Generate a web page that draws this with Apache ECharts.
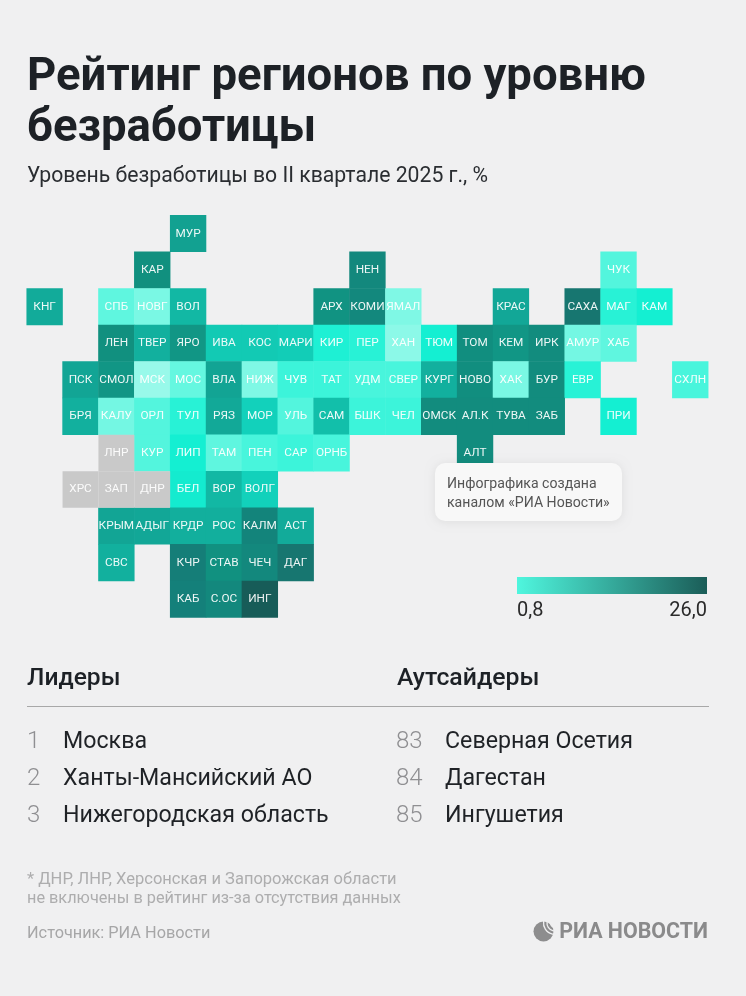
<!DOCTYPE html>
<html lang="ru">
  <head>
    <meta charset="UTF-8" />
    <title>Рейтинг регионов по уровню безработицы</title>
    <script src="https://cdn.jsdelivr.net/npm/echarts@6/dist/echarts.min.js"></script>
    <style>
      html, body { margin: 0; padding: 0; background: #f0f0f1; }
    </style>
  </head>
  <body>
    <div id="container" style="width: 746px;height: 996px"></div>
    <script>
      // tile map: one string per row, "·" is an empty tile
      var tileRows = [
        '· · · · МУР',
        '· · · КАР · · · · · НЕН · · · · · · ЧУК',
        'КНГ · СПБ НОВГ ВОЛ · · · АРХ КОМИ ЯМАЛ · · КРАС · САХА МАГ КАМ',
        '· · ЛЕН ТВЕР ЯРО ИВА КОС МАРИ КИР ПЕР ХАН ТЮМ ТОМ КЕМ ИРК АМУР ХАБ',
        '· ПСК СМОЛ МСК МОС ВЛА НИЖ ЧУВ ТАТ УДМ СВЕР КУРГ НОВО ХАК БУР ЕВР · · СХЛН',
        '· БРЯ КАЛУ ОРЛ ТУЛ РЯЗ МОР УЛЬ САМ БШК ЧЕЛ ОМСК АЛ.К ТУВА ЗАБ · ПРИ',
        '· · ЛНР КУР ЛИП ТАМ ПЕН САР ОРНБ · · · АЛТ',
        '· ХРС ЗАП ДНР БЕЛ ВОР ВОЛГ',
        '· · КРЫМ АДЫГ КРДР РОС КАЛМ АСТ',
        '· · СВС · КЧР СТАВ ЧЕЧ ДАГ',
        '· · · · КАБ С.ОС ИНГ'
      ]
      // unemployment, %, same order as the tiles of each row (null = no data)
      var rateRows = [
        [4.8],
        [6.0, 7.0, 1.4],
        [4.2, 1.3, 1.05, 3.5, 5.8, 7.0, 1.0, 4.4, 10.0, 1.8, 2.0],
        [6.0, 3.9, 5.6, 3.0, 3.0, 2.9, 1.9, 1.8, 0.9, 2.0, 6.2, 5.6, 6.5, 1.1, 1.3],
        [4.5, 5.6, 0.8, 1.25, 4.6, 1.0, 1.6, 1.6, 1.5, 1.5, 3.9, 6.2, 1.05, 6.5, 1.8, 1.5],
        [3.9, 1.1, 1.4, 1.8, 4.3, 2.8, 1.4, 3.3, 1.6, 1.6, 6.5, 6.5, 6.5, 6.5, 2.0],
        [null, 1.4, 2.0, 1.3, 1.5, 1.6, 1.5, 6.5],
        [null, null, null, 2.1, 3.5, 2.8],
        [4.5, 4.4, 4.0, 4.0, 7.5, 4.2],
        [3.9, 8.5, 5.9, 7.0, 10.0],
        [8.0, 7.0, 26.0]
      ]
      var rateStops = [0.8, 1.0, 1.3, 1.6, 2.0, 2.6, 3.5, 4.5, 6.0, 8.0, 10.0, 26.0]
      var stopColors = ['#98f9ea', '#7ff8e5', '#5ff6df', '#3cf4da', '#14efd2', '#12d8c1', '#12b8a4', '#12a595', '#11907f', '#14807a', '#177670', '#175c58']
      var legendColors = ['#4ff6de', '#1b5d58']
      var legendLabels = ['0,8', '26,0']

      var leadersTitle = 'Лидеры'
      var leaderRanks = ['1', '2', '3']
      var leaderNames = ['Москва', 'Ханты-Мансийский АО', 'Нижегородская область']
      var outsidersTitle = 'Аутсайдеры'
      var outsiderRanks = ['83', '84', '85']
      var outsiderNames = ['Северная Осетия', 'Дагестан', 'Ингушетия']

      var FONT = 'Roboto'
      var myChart = echarts.init(document.querySelector('#container'))

      var cols = []
      for (var c = 0; c < 19; c++) cols.push(c)
      var rows = tileRows.map(function (r, i) { return i })

      var heatData = []
      var noData = []
      tileRows.forEach(function (row, y) {
        var k = 0
        row.split(' ').forEach(function (code, x) {
          if (code === '·') return
          var rate = rateRows[y][k++]
          if (rate === null) noData.push({ name: code, value: [x, y] })
          else heatData.push({ name: code, value: [x, y, rate] })
        })
      })

      // the map colours are far from linear, so spread them over 0.1 steps
      var scaleColors = []
      for (var i = 0; i <= 252; i++) {
        var v = 0.8 + i * 0.1
        var s = 0
        while (s < rateStops.length - 2 && v > rateStops[s + 1]) s++
        var t = (v - rateStops[s]) / (rateStops[s + 1] - rateStops[s])
        scaleColors.push(echarts.color.lerp(Math.min(t, 1), [stopColors[s], stopColors[s + 1]]))
      }

      function txt(x, y, text, size, color, weight, align) {
        return {
          type: 'text', x: x, y: y, silent: true,
          style: {
            text: text, fill: color, align: align || 'left', verticalAlign: 'middle',
            font: (weight || 400) + ' ' + size + 'px ' + FONT
          }
        }
      }

      var graphic = [
        // info card
        {
          type: 'rect', x: 435, y: 463, silent: true, z: 5,
          shape: { width: 187, height: 58, r: 10 },
          style: { fill: '#f8f8f8', shadowBlur: 10, shadowColor: 'rgba(0,0,0,0.08)', shadowOffsetY: 1 }
        },
        Object.assign(txt(447, 484, 'Инфографика создана', 14.1, '#555'), { z: 6 }),
        Object.assign(txt(447, 503, 'каналом «РИА Новости»', 14.1, '#555'), { z: 6 }),
        // legend, the bar is linear while the tiles are not
        {
          type: 'rect', x: 517, y: 577, silent: true,
          shape: { width: 190, height: 17 },
          style: {
            fill: new echarts.graphic.LinearGradient(0, 0, 1, 0, [
              { offset: 0, color: legendColors[0] },
              { offset: 1, color: legendColors[1] }
            ])
          }
        },
        txt(517, 611, legendLabels[0], 20, '#2a2a2a'),
        txt(707, 611, legendLabels[1], 20, '#2a2a2a', 400, 'right'),
        // lists
        txt(27, 679, leadersTitle, 24.6, '#1d2126', 500),
        txt(397, 679, outsidersTitle, 24.8, '#1d2126', 500),
        {
          type: 'line', silent: true,
          shape: { x1: 27, y1: 706.5, x2: 709, y2: 706.5 },
          style: { stroke: '#a8a8a8', lineWidth: 1 }
        },
        // footer
        txt(27, 880, '* ДНР, ЛНР, Херсонская и Запорожская области', 16.5, '#adadae'),
        txt(27, 899, 'не включены в рейтинг из-за отсутствия данных', 16.3, '#adadae'),
        txt(27, 934, 'Источник: РИА Новости', 16.3, '#a6a6a7'),
        // logo
        { type: 'circle', silent: true, shape: { cx: 543.5, cy: 931.5, r: 10 }, style: { fill: '#8d8d8e' } },
        { type: 'arc', silent: true, shape: { cx: 555, cy: 923, r: 4.5, startAngle: 1.0, endAngle: 4.0 }, style: { stroke: '#f0f0f1', fill: null, lineWidth: 1.3 } },
        { type: 'arc', silent: true, shape: { cx: 555, cy: 923, r: 8, startAngle: 1.0, endAngle: 4.0 }, style: { stroke: '#f0f0f1', fill: null, lineWidth: 1.3 } },
        { type: 'arc', silent: true, shape: { cx: 555, cy: 923, r: 11.5, startAngle: 1.0, endAngle: 4.0 }, style: { stroke: '#f0f0f1', fill: null, lineWidth: 1.3 } },
        txt(708, 933, 'РИА НОВОСТИ', 21.4, '#8a8a8b', 700, 'right')
      ]
      var listY = [742, 779, 816]
      listY.forEach(function (y, i) {
        graphic.push(txt(27, y, leaderRanks[i], 24, '#8f8f92', 300))
        graphic.push(txt(63, y, leaderNames[i], 23.2, '#1f2226'))
        graphic.push(txt(396, y, outsiderRanks[i], 24, '#8f8f92', 300))
        graphic.push(txt(445, y, outsiderNames[i], 23.2, '#1f2226'))
      })

      var cellLabel = {
        show: true,
        formatter: function (p) { return p.name },
        color: 'rgba(255,255,255,0.92)',
        fontFamily: FONT,
        fontSize: 11.8
      }

      myChart.setOption({
        backgroundColor: '#f0f0f1',
        animation: false,
        title: {
          text: 'Рейтинг регионов по уровню\nбезработицы',
          subtext: 'Уровень безработицы во II квартале 2025 г., %',
          left: 27,
          top: 53,
          padding: 0,
          itemGap: 11,
          textStyle: { fontFamily: FONT, fontSize: 45.5, fontWeight: 700, lineHeight: 51, color: '#1d2126' },
          subtextStyle: { fontFamily: FONT, fontSize: 21.2, color: '#2a2d31' }
        },
        grid: { left: 26.7, top: 215.3, width: 681.5, height: 402.2 },
        xAxis: { type: 'category', data: cols, show: false },
        yAxis: { type: 'category', data: rows, inverse: true, show: false },
        visualMap: {
          type: 'continuous',
          show: false,
          seriesIndex: 0,
          min: 0.8,
          max: 26,
          inRange: { color: scaleColors }
        },
        series: [
          {
            type: 'heatmap',
            data: heatData,
            label: cellLabel
          },
          {
            type: 'scatter',
            data: noData,
            symbol: 'rect',
            symbolSize: [35.87, 36.56],
            itemStyle: { color: '#c9c9c9', opacity: 1 },
            label: Object.assign({ position: 'inside' }, cellLabel)
          }
        ],
        graphic: graphic
      })
    </script>
  </body>
</html>
